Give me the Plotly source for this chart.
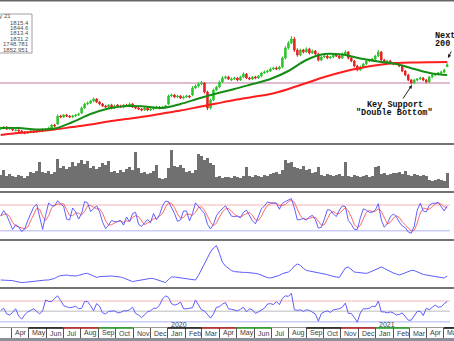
import pandas as pd
import plotly.graph_objects as go

W, H = 454, 341

# ---- price data (daily sampling, Mar 2019 - May 2021) ----
dates = pd.date_range("2019-03-13", "2021-05-07", periods=150)

open_ = [1317, 1325, 1333, 1317, 1325,
         1305, 1309, 1301, 1293, 1285, 1293, 1301, 1293, 1309,
         1301, 1317, 1309,
         1325, 1349,
         1357,
         1421, 1413, 1429, 1421, 1413, 1421, 1429,
         1445, 1485, 1517,
         1525, 1541, 1557, 1533, 1517, 1501, 1493, 1509, 1485,
         1509, 1501, 1493, 1509, 1501, 1517,
         1493, 1485, 1477, 1469, 1485, 1469, 1477,
         1485, 1493, 1485, 1493,
         1517, 1581, 1589, 1573, 1581, 1565, 1573, 1581,
         1589, 1645, 1661,
         1677, 1685, 1613, 1485, 1549, 1629, 1653, 1693, 1725, 1733,
         1709, 1717, 1725, 1709, 1733, 1757, 1725, 1717, 1733, 1725,
         1741, 1765, 1773,
         1781, 1797, 1805, 1797,
         1813, 1885, 1965, 2005, 2037, 1949,
         1909, 1949, 1933, 1957,
         1925, 1941, 1917,
         1869, 1893, 1901, 1885, 1893, 1909, 1901, 1885,
         1917, 1933, 1885, 1861, 1821, 1789, 1813,
         1837, 1861, 1869, 1877,
         1901, 1933, 1869, 1853, 1861, 1845, 1845, 1837,
         1821, 1781, 1749, 1709, 1685, 1709, 1717, 1725, 1709,
         1693, 1733, 1749, 1757, 1765, 1773, 1815.4]

high = [1335, 1341, 1339, 1335, 1331,
        1319, 1315, 1309, 1299, 1303, 1309, 1307, 1317, 1315,
        1325, 1323, 1335,
        1357, 1359,
        1433,
        1431, 1437, 1439, 1429, 1431, 1437, 1447,
        1497, 1527, 1537,
        1551, 1569, 1565, 1543, 1525, 1511, 1517, 1519, 1513,
        1517, 1511, 1517, 1519, 1529, 1525,
        1501, 1495, 1485, 1495, 1493, 1487, 1493,
        1503, 1501, 1503, 1509,
        1593, 1601, 1597, 1591, 1589, 1585, 1591, 1589,
        1659, 1673, 1691,
        1701, 1693, 1623, 1561, 1641, 1663, 1705, 1739, 1745, 1743,
        1729, 1735, 1733, 1743, 1771, 1765, 1735, 1741, 1743, 1749,
        1775, 1785, 1791,
        1809, 1815, 1817, 1823,
        1897, 1981, 2021, 2061, 2053, 1963,
        1961, 1959, 1971, 1967,
        1953, 1949, 1927,
        1905, 1911, 1909, 1903, 1921, 1917, 1911, 1929,
        1947, 1941, 1895, 1869, 1831, 1825, 1847,
        1873, 1879, 1885, 1911,
        1949, 1941, 1879, 1869, 1871, 1853, 1855, 1845,
        1831, 1789, 1759, 1717, 1719, 1725, 1735, 1733, 1717,
        1743, 1757, 1767, 1773, 1783, 1799, 1844.6]

low = [1309, 1315, 1309, 1311, 1299,
       1297, 1291, 1285, 1275, 1277, 1283, 1285, 1287, 1293,
       1291, 1301, 1303,
       1317, 1331,
       1349,
       1403, 1405, 1411, 1405, 1403, 1413, 1423,
       1435, 1477, 1507,
       1517, 1531, 1525, 1507, 1493, 1483, 1485, 1475, 1477,
       1491, 1485, 1483, 1493, 1491, 1485,
       1475, 1469, 1459, 1461, 1459, 1461, 1467,
       1477, 1475, 1477, 1483,
       1507, 1571, 1565, 1563, 1557, 1555, 1565, 1563,
       1579, 1637, 1649,
       1667, 1601, 1469, 1473, 1539, 1621, 1643, 1685, 1715, 1709,
       1699, 1709, 1699, 1701, 1723, 1717, 1707, 1709, 1715, 1717,
       1731, 1757, 1763,
       1773, 1787, 1789, 1787,
       1803, 1873, 1953, 1995, 1933, 1895,
       1899, 1921, 1925, 1913,
       1917, 1907, 1857,
       1859, 1885, 1875, 1877, 1883, 1893, 1875, 1877,
       1907, 1873, 1851, 1809, 1779, 1781, 1803,
       1829, 1851, 1861, 1867,
       1893, 1859, 1845, 1843, 1837, 1827, 1829, 1811,
       1771, 1739, 1699, 1673, 1677, 1699, 1709, 1699, 1683,
       1685, 1723, 1741, 1747, 1757, 1763, 1813.4]

close = [1325, 1333, 1317, 1325, 1309,
         1309, 1301, 1293, 1285, 1293, 1301, 1293, 1309, 1301,
         1317, 1309, 1325,
         1349, 1341,
         1421,
         1413, 1429, 1421, 1413, 1421, 1429, 1437,
         1485, 1517, 1525,
         1541, 1557, 1533, 1517, 1501, 1493, 1509, 1485, 1501,
         1501, 1493, 1509, 1501, 1517, 1493,
         1485, 1477, 1469, 1485, 1469, 1477, 1485,
         1493, 1485, 1493, 1501,
         1581, 1589, 1573, 1581, 1565, 1573, 1581, 1573,
         1645, 1661, 1677,
         1685, 1613, 1485, 1549, 1629, 1653, 1693, 1725, 1733, 1717,
         1717, 1725, 1709, 1733, 1757, 1725, 1717, 1733, 1725, 1741,
         1765, 1773, 1781,
         1797, 1805, 1797, 1813,
         1885, 1965, 2005, 2037, 1949, 1909,
         1949, 1933, 1957, 1925,
         1941, 1917, 1869,
         1893, 1901, 1885, 1893, 1909, 1901, 1885, 1917,
         1933, 1885, 1861, 1821, 1789, 1813, 1837,
         1861, 1869, 1877, 1901,
         1933, 1869, 1853, 1861, 1845, 1837, 1837, 1821,
         1781, 1749, 1709, 1685, 1709, 1717, 1725, 1709, 1693,
         1733, 1749, 1757, 1765, 1773, 1789, 1831.2]

volume = [130000, 180000, 120000, 140000,
          120000, 110000, 130000, 120000, 100000, 120000,
          160000, 150000, 170000, 260000,
          160000, 150000, 170000, 140000, 160000, 290000,
          200000, 220000, 190000, 210000,
          260000, 220000, 250000,
          280000, 240000, 270000,
          200000, 220000, 190000, 210000,
          250000, 230000, 270000,
          160000, 170000, 150000, 180000, 160000,
          190000, 210000, 180000, 360000, 200000,
          150000, 160000, 140000, 150000, 170000, 230000,
          100000, 90000, 100000,
          200000, 380000,
          220000, 210000, 230000, 200000,
          160000, 170000, 150000, 180000,
          340000, 320000, 280000,
          300000, 250000, 230000,
          110000, 120000, 100000, 110000,
          110000, 100000, 120000, 110000, 100000, 120000, 210000,
          120000, 110000, 130000, 120000, 110000, 130000, 120000, 140000,
          150000, 160000, 140000, 180000,
          280000, 250000, 260000,
          210000, 200000, 190000, 220000, 180000, 190000,
          150000, 160000, 210000,
          130000, 120000, 140000, 130000, 120000, 130000, 140000, 120000,
          260000,
          120000, 110000, 130000, 120000, 110000, 120000, 130000, 110000, 120000,
          210000, 220000,
          140000, 150000, 130000, 140000, 150000,
          150000, 160000, 140000, 170000,
          130000, 120000, 140000, 130000, 120000, 130000, 120000,
          80000, 70000, 80000, 90000, 80000, 70000,
          150000]

# moving averages, sampled every sixth session plus the last one
ma_idx = list(range(0, 150, 6)) + [149]
ma50 = [1325, 1325, 1313, 1321, 1373, 1437, 1481, 1501, 1497, 1485, 1517, 1561, 1601,
        1637, 1677, 1717, 1781, 1869, 1917, 1913, 1881, 1857, 1837, 1797, 1761, 1748.781]
ma200 = [1269, 1285, 1297, 1313, 1333, 1353, 1377, 1397, 1417, 1441, 1465, 1493, 1521,
         1549, 1573, 1597, 1637, 1685, 1733, 1773, 1805, 1829, 1845, 1850, 1852, 1852.951]

support_level = 1685

# ---- indicators ----
stoch_k = [54, 67, 56, 37, 23, 34, 29, 18, 24, 43, 60, 75, 82, 53, 23, 56, 85, 78, 78, 90,
           82, 77, 47, 45, 73, 64, 47, 60, 88, 85, 65, 71, 78, 64, 40, 25, 33, 44, 41, 41,
           44, 33, 52, 41, 60, 63, 35, 30, 37, 46, 39, 60, 46, 57, 78, 89, 88, 75, 60, 42,
           45, 66, 66, 43, 60, 85, 76, 68, 60, 35, 24, 35, 55, 65, 71, 78, 66, 54, 53, 54,
           50, 63, 68, 57, 43, 36, 54, 71, 78, 87, 85, 84, 84, 70, 84, 88, 91, 95, 73, 45,
           46, 49, 45, 52, 56, 46, 26, 28, 47, 69, 68, 59, 53, 68, 78, 76, 44, 35, 23, 23,
           50, 71, 68, 63, 63, 68, 83, 45, 28, 36, 52, 59, 53, 40, 31, 27, 17, 14, 31, 68,
           84, 66, 64, 79, 84, 84, 86, 76, 66, 78]
stoch_d = [55, 58, 59, 53, 39, 31, 29, 27, 24, 28, 42, 59, 72, 70, 53, 44, 55, 73, 80, 82,
           83, 83, 69, 56, 55, 61, 61, 57, 65, 78, 79, 74, 71, 71, 61, 43, 33, 34, 39, 42,
           42, 39, 43, 42, 51, 55, 53, 43, 34, 38, 41, 48, 48, 54, 60, 75, 85, 84, 74, 59,
           49, 51, 59, 58, 56, 63, 74, 76, 68, 54, 40, 31, 38, 52, 64, 71, 72, 66, 58, 54,
           52, 56, 60, 63, 56, 45, 44, 54, 68, 79, 83, 85, 84, 79, 79, 81, 88, 91, 86, 71,
           55, 47, 47, 49, 51, 51, 43, 33, 34, 48, 61, 65, 60, 60, 66, 74, 66, 52, 34, 27,
           32, 48, 63, 67, 65, 65, 71, 65, 52, 36, 39, 49, 55, 51, 41, 33, 25, 19, 21, 38,
           61, 73, 71, 70, 76, 82, 85, 82, 76, 73]
stoch_bands = [80, 20]

volatility = [10.0, 10.0, 9.8, 10.0, 9.7, 9.3, 9.0, 8.7, 8.8, 9.0, 9.2, 9.2, 9.3, 9.7, 9.8,
              10.0, 10.0, 10.3, 10.8, 11.7, 12.2, 12.3, 12.5, 12.2, 12.0, 12.0, 12.3, 12.8,
              13.2, 13.3, 12.7, 11.8, 11.3, 11.7, 11.8, 12.0, 12.0, 12.0, 11.8, 11.7, 11.5,
              11.0, 10.3, 9.7, 9.2, 9.5, 9.8, 10.2, 10.5, 10.7, 10.8, 10.7, 10.2, 9.7, 9.0,
              8.7, 10.3, 11.5, 11.5, 11.3, 11.2, 11.0, 10.8, 10.5, 10.2, 10.0, 12.3, 15.3,
              18.3, 21.3, 24.0, 26.0, 27.2, 23.3, 18.8, 17.0, 15.8, 14.7, 14.2, 14.0, 14.0,
              13.8, 13.8, 13.7, 13.5, 13.3, 13.0, 12.3, 11.8, 11.2, 11.0, 11.5, 12.0, 12.3,
              13.2, 13.8, 14.0, 15.2, 17.0, 18.0, 17.3, 15.8, 14.8, 14.5, 14.2, 14.0, 13.7,
              13.5, 13.2, 12.7, 12.2, 11.7, 11.5, 11.3, 13.7, 16.0, 16.5, 15.0, 14.0, 13.8,
              13.7, 13.5, 13.3, 13.8, 14.5, 15.0, 15.7, 16.5, 15.8, 15.0, 14.0, 13.5, 13.0,
              12.5, 13.0, 13.7, 14.2, 14.8, 14.7, 14.0, 13.3, 12.8, 12.5, 12.2, 12.0, 11.7,
              11.5, 11.2, 11.0, 12.0]

rsi = [52, 56, 45, 43, 48, 55, 41, 35, 43, 49, 52, 55, 50, 45, 51, 72, 69, 69, 75, 80,
       71, 61, 59, 57, 58, 60, 55, 56, 69, 69, 61, 51, 65, 60, 47, 45, 50, 51, 51, 47,
       48, 51, 51, 53, 58, 46, 43, 38, 44, 49, 51, 56, 56, 62, 74, 80, 77, 65, 62, 64,
       68, 55, 55, 56, 57, 72, 62, 53, 51, 45, 37, 45, 58, 59, 64, 67, 55, 54, 53, 51,
       54, 58, 49, 55, 53, 46, 49, 53, 56, 64, 65, 63, 69, 63, 75, 80, 79, 85, 53, 52,
       53, 50, 53, 52, 49, 45, 31, 46, 49, 51, 48, 53, 54, 55, 58, 66, 46, 46, 38, 29,
       47, 55, 55, 56, 60, 59, 70, 49, 49, 47, 49, 47, 43, 44, 47, 39, 33, 33, 42, 50,
       50, 42, 56, 53, 58, 62, 58, 59, 65, 69]
rsi_bands = [70, 50, 30]

legend_date = "7 May 21"
legend_values = ["1815.4", "1844.6", "1813.4", "1831.2", "1748.781", "1852.951"]

month_starts = pd.date_range("2019-03-01", "2021-05-01", freq="MS")
month_names = [d.strftime("%b") for d in month_starts]
year_marks = ["2020", "2021"]
# contract-month colour bands along the date axis
bands = [("2019-05-01", "2019-07-01", "#111111"), ("2019-07-01", "2019-09-01", "#b01818"),
         ("2019-09-01", "2019-11-01", "#1c9a1c"), ("2020-01-01", "2020-03-01", "#111111"),
         ("2020-03-01", "2020-05-01", "#b01818"), ("2020-05-01", "2020-07-01", "#1c9a1c"),
         ("2020-09-01", "2020-11-01", "#111111"), ("2020-11-01", "2021-01-01", "#b01818"),
         ("2021-01-01", "2021-03-01", "#1c9a1c"), ("2021-05-01", "2021-05-20", "#111111")]


def py(p):
    """pixel row -> paper fraction"""
    return 1 - p / H


def px(p):
    return p / W


ma_dates = [dates[i] for i in ma_idx]

fig = go.Figure()
fig.add_trace(go.Candlestick(
    x=dates, open=open_, high=high, low=low, close=close,
    increasing=dict(line=dict(color="#2fc42f", width=1), fillcolor="#2fc42f"),
    decreasing=dict(line=dict(color="#e42424", width=1), fillcolor="#e42424"),
    whiskerwidth=0, yaxis="y", showlegend=False, hoverinfo="skip"))
fig.add_trace(go.Scatter(x=ma_dates, y=ma200, mode="lines", yaxis="y",
                         line=dict(color="#ff1c1c", width=2, shape="spline")))
fig.add_trace(go.Scatter(x=ma_dates, y=ma50, mode="lines", yaxis="y",
                         line=dict(color="#168c16", width=2, shape="spline")))
fig.add_trace(go.Bar(x=dates, y=volume, yaxis="y2",
                     marker=dict(color="#707070", line=dict(width=0))))
fig.add_trace(go.Scatter(x=dates, y=stoch_d, mode="lines", yaxis="y3",
                         line=dict(color="rgba(255,90,90,0.9)", width=1)))
fig.add_trace(go.Scatter(x=dates, y=stoch_k, mode="lines", yaxis="y3",
                         line=dict(color="rgba(80,80,255,0.9)", width=1)))
fig.add_trace(go.Scatter(x=dates, y=volatility, mode="lines", yaxis="y4",
                         line=dict(color="#5c5cff", width=1)))
fig.add_trace(go.Scatter(x=dates, y=rsi, mode="lines", yaxis="y5",
                         line=dict(color="#5c5cff", width=1)))

shapes = []
# key support line
shapes.append(dict(type="line", xref="paper", yref="y", x0=0, x1=px(450),
                   y0=support_level, y1=support_level, layer="below",
                   line=dict(color="#d6a3bf", width=1.5)))
# oscillator bands
for lvl, col in zip(stoch_bands, ["#f9cccc", "#ccccfa"]):
    shapes.append(dict(type="line", xref="paper", yref="y3", x0=0, x1=px(450),
                       y0=lvl, y1=lvl, layer="below", line=dict(color=col, width=1.5)))
for lvl, col in zip(rsi_bands, ["#f9cccc", "#d2d2d2", "#ccccfa"]):
    shapes.append(dict(type="line", xref="paper", yref="y5", x0=0, x1=px(450),
                       y0=lvl, y1=lvl, layer="below", line=dict(color=col, width=1.5)))
# panel separators
for row in [144, 192, 240, 288]:
    shapes.append(dict(type="line", xref="paper", yref="paper", x0=0, x1=1,
                       y0=py(row), y1=py(row), line=dict(color="#444444", width=1.6)))
shapes.append(dict(type="line", xref="paper", yref="paper", x0=0, x1=1,
                   y0=py(0.8), y1=py(0.8), line=dict(color="#666666", width=1.6)))
shapes.append(dict(type="rect", xref="paper", yref="paper", x0=0, x1=1,
                   y0=0, y1=py(338), line=dict(width=0), fillcolor="#8c9098"))
for a, b, col in bands:
    shapes.append(dict(type="line", xref="x", yref="paper", x0=a, x1=b,
                       y0=py(328), y1=py(328), line=dict(color=col, width=1.6)))
# data box
shapes.append(dict(type="rect", xref="paper", yref="paper", x0=px(-2), x1=px(32),
                   y0=py(53), y1=py(14), line=dict(color="#a0a0a0", width=1),
                   fillcolor="white"))

ann = []
small = dict(family="Liberation Sans", size=6, color="#505050")
ann.append(dict(xref="paper", yref="paper", x=px(12.5), y=py(16.5), text=legend_date,
                xanchor="right", yanchor="middle", showarrow=False, font=small))
for k, v in enumerate(legend_values):
    ann.append(dict(xref="paper", yref="paper", x=px(31), y=py(22.6 + 5.4 * k), text=v,
                    xanchor="right", yanchor="middle", showarrow=False, font=small))

for d, name in zip(month_starts, month_names):
    ann.append(dict(xref="x", yref="paper", x=d, y=py(333), text=name, xshift=1.5,
                    xanchor="left", yanchor="middle", showarrow=False,
                    font=dict(family="Liberation Sans", size=7, color="#3c3c3c")))
for yr in year_marks:
    ann.append(dict(xref="x", yref="paper", x=f"{yr}-01-01", y=py(324.5), text=yr, xshift=1,
                    xanchor="left", yanchor="middle", showarrow=False,
                    font=dict(family="Liberation Sans", size=7, color="#3c3c3c")))

mono = dict(family="Liberation Mono", size=8.5, color="#111111")
ann.append(dict(xref="paper", yref="paper", x=px(394.5), y=py(105.5), text="<b>Key Support</b>",
                xanchor="center", yanchor="middle", showarrow=False, font=mono))
ann.append(dict(xref="paper", yref="paper", x=px(394.5), y=py(113.5),
                text="<b>\"Double Bottom\"</b>",
                xanchor="center", yanchor="middle", showarrow=False, font=mono))
ann.append(dict(xref="paper", yref="paper", x=px(412), y=py(85), text="",
                showarrow=True, ax=-10, ay=15, arrowhead=2, arrowsize=0.7,
                arrowwidth=1, arrowcolor="#222222"))
ann.append(dict(xref="paper", yref="paper", x=px(433), y=py(36), text="<b>Next</b>",
                xanchor="left", yanchor="middle", showarrow=False, font=mono))
ann.append(dict(xref="paper", yref="paper", x=px(433), y=py(43.5), text="<b>200 Day</b>",
                xanchor="left", yanchor="middle", showarrow=False, font=mono))
ann.append(dict(xref="paper", yref="paper", x=px(448), y=py(58), text="",
                showarrow=True, ax=4, ay=-8, arrowhead=2, arrowsize=0.7,
                arrowwidth=1, arrowcolor="#222222"))

hidden = dict(showgrid=False, zeroline=False, showticklabels=False, showline=False,
              ticks="", fixedrange=True)

fig.update_layout(
    width=W, height=H, margin=dict(l=0, r=0, t=0, b=0, pad=0, autoexpand=False),
    paper_bgcolor="white", plot_bgcolor="white", showlegend=False, bargap=0,
    hovermode=False,
    xaxis=dict(type="date", range=["2019-03-11 19:00", "2021-05-18 22:00"], domain=[0, 1],
               anchor="y5", showgrid=False, zeroline=False, showticklabels=False,
               ticks="outside", ticklen=10, tickwidth=1, tickcolor="#555555",
               tickvals=list(month_starts), showline=True, linecolor="#9a9a9a",
               linewidth=1, rangeslider=dict(visible=False), fixedrange=True),
    yaxis=dict(domain=[py(143), py(3)], range=[1205, 2325], **hidden),
    yaxis2=dict(domain=[py(191), py(145)], range=[-30000, 430000], anchor="x", **hidden),
    yaxis3=dict(domain=[py(239), py(193)], range=[0.6, 108.0], anchor="x", **hidden),
    yaxis4=dict(domain=[py(287), py(241)], range=[6.5, 29.5], anchor="x", **hidden),
    yaxis5=dict(domain=[py(327), py(289)], range=[19.8, 93.2], anchor="x", **hidden),
    shapes=shapes, annotations=ann,
)

fig.write_html("out.html")
